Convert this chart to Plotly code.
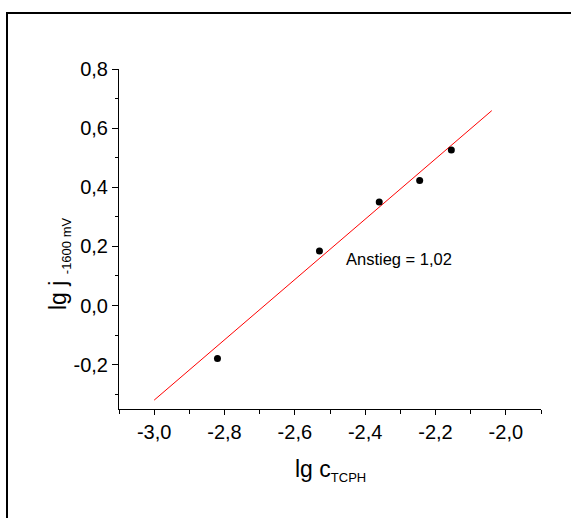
import plotly.graph_objects as go

# measured points: lg c(TCPH) vs lg j at -1600 mV
lg_c = [-2.82, -2.53, -2.36, -2.245, -2.155]
lg_j = [-0.179, 0.184, 0.350, 0.423, 0.526]

# linear fit (slope stated in the annotation)
slope = 1.02
intercept = 2.74
fit_x = [-3.0, -2.04]
fit_y = [slope * x + intercept for x in fit_x]

x_tickvals = [-3.0, -2.8, -2.6, -2.4, -2.2, -2.0]
x_ticktext = ["-3,0", "-2,8", "-2,6", "-2,4", "-2,2", "-2,0"]
y_tickvals = [-0.2, 0.0, 0.2, 0.4, 0.6, 0.8]
y_ticktext = ["-0,2", "0,0", "0,2", "0,4", "0,6", "0,8"]

FONT = "Liberation Sans, Arial, sans-serif"
W, H = 571, 518
ML, MR, MT, MB = 119, 30, 69, 109
PW, PH = W - ML - MR, H - MT - MB


def px_x(px):
    return (px - ML) / PW


def px_y(py):
    return (H - MB - py) / PH


fig = go.Figure()
fig.add_trace(go.Scatter(
    x=fit_x, y=fit_y, mode="lines",
    line=dict(color="#ff0000", width=1), showlegend=False, hoverinfo="skip"))
fig.add_trace(go.Scatter(
    x=lg_c, y=lg_j, mode="markers",
    marker=dict(color="black", size=7), showlegend=False))

axis_common = dict(
    showgrid=False, zeroline=False, showline=True, linecolor="black",
    linewidth=1, ticks="outside", tickcolor="black", tickwidth=1,
    tickfont=dict(family=FONT, size=20, color="black"),
)

fig.update_xaxes(
    range=[-3.1, -1.9], tickvals=x_tickvals, ticktext=x_ticktext, ticklen=5,
    minor=dict(dtick=0.1, tick0=-3.0, ticks="outside", ticklen=4,
               tickcolor="black", tickwidth=1),
    **axis_common)
fig.update_yaxes(
    range=[-0.35, 0.8], tickvals=y_tickvals, ticktext=y_ticktext, ticklen=6,
    minor=dict(dtick=0.1, tick0=0.0, ticks="outside", ticklen=3,
               tickcolor="black", tickwidth=1),
    **axis_common)

fig.update_layout(
    width=W, height=H,
    margin=dict(l=ML, r=MR, t=MT, b=MB),
    paper_bgcolor="white", plot_bgcolor="white",
    font=dict(family=FONT, color="black"),
    shapes=[dict(
        type="rect", xref="paper", yref="paper",
        x0=px_x(7), x1=px_x(W + 10), y0=px_y(H + 10), y1=px_y(13),
        line=dict(color="black", width=2), fillcolor="rgba(0,0,0,0)")],
    annotations=[
        dict(text="Anstieg = 1,02", x=-2.4615, y=0.159, xref="x", yref="y",
             xanchor="left", yanchor="middle", showarrow=False,
             font=dict(family=FONT, size=16.5, color="black")),
        dict(text="lg c<sub><span style='font-size:13px'>TCPH</span></sub>",
             x=0.5, y=px_y(470), xref="paper", yref="paper",
             xanchor="center", yanchor="middle", showarrow=False,
             font=dict(family=FONT, size=23, color="black")),
        dict(text="lg j <sub><span style='font-size:13px'>-1600 mV</span></sub>",
             x=px_x(59), y=px_y(264), xref="paper", yref="paper",
             xanchor="center", yanchor="middle", textangle=-90,
             showarrow=False,
             font=dict(family=FONT, size=23, color="black")),
    ],
)

fig.write_html("out.html")
